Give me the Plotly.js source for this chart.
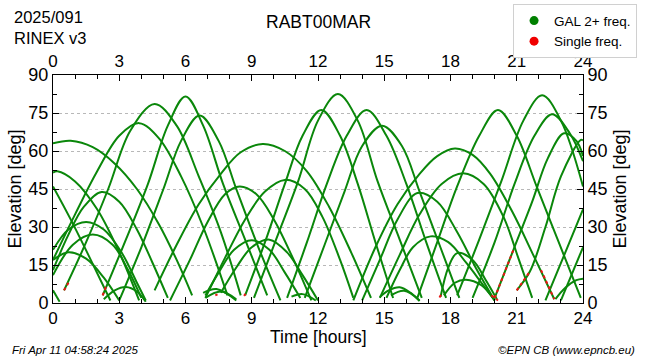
<!DOCTYPE html>
<html>
<head>
<meta charset="utf-8">
<script src="https://cdn.plot.ly/plotly-3.0.1.min.js"></script>
<style>html,body{margin:0;padding:0;background:#fff}#chart{width:650px;height:360px}</style>
</head>
<body>
<div id="chart"></div>
<script>
// Satellite passes: time [hours] and elevation [deg]
const passT = [
  [0, 0.8, 1.8, 2.8, 3.8, 4.8, 5.6, 6.3],
  [0, 0.2, 1.0, 2.0, 3.0, 3.9],
  [0, 0.8, 1.6, 2.6],
  [0, 0.7, 1.4, 2.2, 3.0, 3.8, 4.5, 5.2],
  [0, 0.7, 1.5, 2.3, 3.1, 3.8, 4.2],
  [0, 0.9, 1.8, 2.7, 3.4, 4.0],
  [0, 0.7, 1.5, 2.3, 3.0],
  [2.3, 2.8, 3.3, 3.8, 4.2],
  [0, 0.3],
  [0, 1, 2, 3, 3.9, 4.8, 5.8, 6.8, 7.9],
  [0.5, 1.5, 2.5, 3.5, 4.6, 5.6, 6.6, 7.6, 8.5],
  [2.25, 3.3, 4.3, 5.2, 6.0, 6.8, 7.7, 8.7, 9.7],
  [3.0, 4.0, 5.0, 5.8, 6.64, 7.5, 8.3, 9.3, 10.3],
  [4.6, 5.6, 6.6, 7.6, 8.5, 9.5, 10.5, 11.5, 12.5, 13.5, 14.4],
  [5.3, 6.2, 7.0, 7.8, 8.45, 9.2, 10.0, 10.9, 11.7],
  [6.9, 7.8, 8.7, 9.6, 10.5, 11.4, 12.2, 13.0, 13.6],
  [6.9, 7.5, 8.2, 9.0, 9.8, 10.5, 11.2],
  [7.6, 8.3, 9.0, 9.8, 10.6, 11.3, 12.0],
  [6.8, 7.4, 8.3],
  [6.9, 7.6, 8.3],
  [10.8, 11.3, 11.9],
  [8.7, 9.6, 10.5, 11.3, 12.15, 13.0, 13.8, 14.6, 15.4],
  [9.1, 10.1, 11.1, 12.0, 12.9, 13.8, 14.7, 15.7, 16.7],
  [10.6, 11.5, 12.4, 13.3, 14.2, 15.1, 16.0, 16.9, 17.8],
  [11.4, 12.3, 13.2, 14.0, 14.9, 15.8, 16.6, 17.5, 18.4],
  [13.6, 14.6, 15.6, 16.6, 17.4, 18.2, 19.0, 19.8, 20.8, 21.8, 22.7],
  [14.0, 14.8, 15.6, 16.5, 17.4, 18.3, 19.2, 20.0],
  [14.8, 15.7, 16.6, 17.6, 18.57, 19.5, 20.4, 21.1, 21.7],
  [15.1, 15.7, 16.3, 17.1, 17.9, 18.7, 19.4, 20.0],
  [17.55, 17.9, 18.3, 19.0, 19.6, 20.1],
  [17.7, 18.2, 18.7, 19.4, 20.0],
  [14.8, 15.2, 15.7, 16.2, 16.6],
  [15.3, 15.9, 16.6],
  [16.5, 17.4, 18.3, 19.3, 20.15, 21.0, 21.9, 22.9, 23.9],
  [18.3, 19.3, 20.3, 21.3, 22.15, 23.0, 24],
  [19.0, 20.0, 20.9, 21.8, 22.6, 23.4, 24],
  [20.0, 20.85, 21.7, 22.4, 23.14, 23.7, 24],
  [21.0, 21.6, 22.3, 23.0, 23.9, 24],
  [22.3, 23.2, 24],
  [23.0, 24],
  [22.75, 23.2, 23.7, 24]
];
const passE = [
  [63, 64, 61.5, 55, 45, 31, 17, 3],
  [51.5, 52, 48, 37, 20, 1],
  [46, 33, 19, 1],
  [13, 27, 38, 43.8, 40, 29, 16, 2],
  [21, 29, 32, 29, 20, 8, 1],
  [11, 23, 27, 23, 13, 2],
  [17, 20, 17.5, 10, 1],
  [1.5, 5, 6.3, 4.5, 0.5],
  [5, 0.5],
  [17, 35, 52, 66, 71, 65, 50, 30, 3],
  [5, 24, 45, 68, 78.6, 70, 50, 28, 3],
  [3, 25, 47, 70, 81.5, 70, 47, 25, 3],
  [1, 22, 45, 64, 74, 64, 45, 22, 1],
  [5, 23, 39, 51, 59.5, 62.8, 60, 52, 38, 20, 2],
  [1, 17, 32, 43, 46, 43, 33, 17, 1],
  [2, 18, 33, 44, 48.6, 45, 34, 17, 2],
  [3, 12, 21, 24.8, 21, 12, 2],
  [4, 14, 22, 25, 20, 11, 1],
  [4, 5.5, 1],
  [2, 4.5, 1.5],
  [2.5, 3.5, 1],
  [3, 24, 47, 66, 76.2, 66, 47, 24, 2],
  [2, 25, 48, 72, 82.5, 72, 48, 25, 2],
  [2, 24, 47, 66, 76.2, 66, 47, 24, 2],
  [2, 23, 44, 62, 70, 62, 44, 23, 2],
  [1, 22, 39, 51, 58, 61, 58.5, 51, 36, 18, 1.5],
  [1, 17, 33, 43.4, 40, 28, 13, 1],
  [2, 19, 35, 47, 51.2, 47, 34, 17, 2],
  [2, 13, 22, 26.3, 24, 16, 8, 1],
  [2.4, 14, 19.7, 17, 9, 1.5],
  [3, 8, 9.2, 7, 1],
  [2.4, 5, 6.2, 4, 0.8],
  [3, 4.8, 1],
  [2, 24, 46, 66, 76.2, 66, 46, 24, 2],
  [3, 25, 48, 72, 82, 72, 46],
  [2, 24, 47, 66, 74.5, 67, 56],
  [2, 21, 40, 57, 67, 64, 58],
  [5, 12.5, 30, 50, 64.4, 64.2],
  [1, 20, 37],
  [1, 22],
  [1.5, 6, 9, 9.6]
];
// Single-frequency segments (red)
const redT = [[0.5, 0.7], [2.25, 2.4], [7.35, 7.45], [8.65, 8.72], [17.5, 17.6], [19.85, 20.15], [20.0, 20.85], [21.0, 21.6], [22.1, 22.7]];
const redE = [[5, 8], [3, 6.5], [3, 3.4], [2.8, 3.6], [2.2, 3.6], [3, 1], [2, 21], [5, 12.5], [13, 1.5]];
const xTicks = [0, 3, 6, 9, 12, 15, 18, 21, 24];
const yTicks = [0, 15, 30, 45, 60, 75, 90];
const legendNames = ['GAL 2+ freq.', 'Single freq.'];

const GREEN = 'rgb(10,135,10)';
const RED = 'rgb(235,20,20)';
const FONT = 'Liberation Sans, Arial, sans-serif';

const traces = [];
passT.forEach((t, i) => {
  traces.push({x: t, y: passE[i], type: 'scatter', mode: 'lines',
    line: {color: GREEN, width: 2, shape: 'spline', smoothing: 1},
    showlegend: false, hoverinfo: 'skip'});
});
redT.forEach((t, i) => {
  traces.push({x: t, y: redE[i], type: 'scatter', mode: 'lines',
    line: {color: RED, width: 2, dash: 'dot'},
    showlegend: false, hoverinfo: 'skip'});
});
traces.push({x: [null], y: [null], xaxis: 'x2', yaxis: 'y2', type: 'scatter', mode: 'markers',
  name: legendNames[0], marker: {color: 'rgb(0,128,0)', size: 9, line: {width: 0}}});
traces.push({x: [null], y: [null], xaxis: 'x2', yaxis: 'y2', type: 'scatter', mode: 'markers',
  name: legendNames[1], marker: {color: 'rgb(240,0,0)', size: 9, line: {width: 0}}});

const xCommon = {range: [0, 24], tickvals: xTicks, ticktext: xTicks.map(String),
  ticks: 'inside', ticklen: 6, tickcolor: '#000', showline: true, linecolor: '#000', linewidth: 1,
  minor: {dtick: 1, tick0: 0, ticks: 'inside', ticklen: 4, tickcolor: '#000'},
  showgrid: false, zeroline: false, tickfont: {family: FONT, size: 17, color: '#000'}, fixedrange: true};
const yCommon = {range: [0, 90], tickvals: yTicks, ticktext: yTicks.map(String),
  ticks: 'inside', ticklen: 6, tickcolor: '#000', showline: true, linecolor: '#000', linewidth: 1,
  minor: {dtick: 7.5, tick0: 0, ticks: 'inside', ticklen: 4, tickcolor: '#000'},
  zeroline: false, tickfont: {family: FONT, size: 18, color: '#000'}, fixedrange: true};

const layout = {
  width: 650, height: 360,
  margin: {l: 53, r: 67, t: 75, b: 57, pad: 0, autoexpand: false},
  paper_bgcolor: '#fff', plot_bgcolor: '#fff',
  font: {family: FONT, color: '#000'},
  xaxis: Object.assign({}, xCommon),
  xaxis2: Object.assign({}, xCommon, {overlaying: 'x', side: 'top', anchor: 'y2'}),
  yaxis: Object.assign({}, yCommon, {
    showgrid: true, gridcolor: '#b8b8b8', griddash: 'dot', gridwidth: 1,
    title: {text: 'Elevation [deg]', font: {family: FONT, size: 18, color: '#000'}, standoff: 2}
  }),
  yaxis2: Object.assign({}, yCommon, {overlaying: 'y', side: 'right', anchor: 'x2', showgrid: false,
    title: {text: 'Elevation [deg]', font: {family: FONT, size: 18, color: '#000'}, standoff: 6}
  }),
  showlegend: true,
  legend: {x: 1.102, xanchor: 'right', y: 1.31, yanchor: 'top', bgcolor: '#fff',
    bordercolor: '#d0d0d0', borderwidth: 1, font: {family: FONT, size: 13.5, color: '#000'},
    tracegroupgap: 0, itemwidth: 30},
  annotations: [
    {xref: 'paper', yref: 'paper', x: -0.077, y: (303 - 27) / 228, xanchor: 'left', yanchor: 'middle', align: 'left',
      text: '2025/091<br>RINEX v3', showarrow: false, font: {family: FONT, size: 16.5, color: '#000'}},
    {xref: 'paper', yref: 'paper', x: 0.5, y: (303 - 22) / 228, xanchor: 'center', yanchor: 'middle',
      text: 'RABT00MAR', showarrow: false, font: {family: FONT, size: 17.5, color: '#000'}},
    {xref: 'paper', yref: 'paper', x: 0.5, y: (303 - 337) / 228, xanchor: 'center', yanchor: 'middle',
      text: 'Time [hours]', showarrow: false, font: {family: FONT, size: 17.5, color: '#000'}},
    {xref: 'paper', yref: 'paper', x: -0.081, y: (303 - 350) / 228, xanchor: 'left', yanchor: 'middle',
      text: '<i>Fri Apr 11 04:58:24 2025</i>', showarrow: false, font: {family: FONT, size: 11.5, color: '#000'}},
    {xref: 'paper', yref: 'paper', x: 1.102, y: (303 - 350) / 228, xanchor: 'right', yanchor: 'middle',
      text: '<i>©EPN CB (www.epncb.eu)</i>', showarrow: false, font: {family: FONT, size: 11.5, color: '#000'}}
  ]
};

Plotly.newPlot('chart', traces, layout, {staticPlot: true, displayModeBar: false});
</script>
</body>
</html>
